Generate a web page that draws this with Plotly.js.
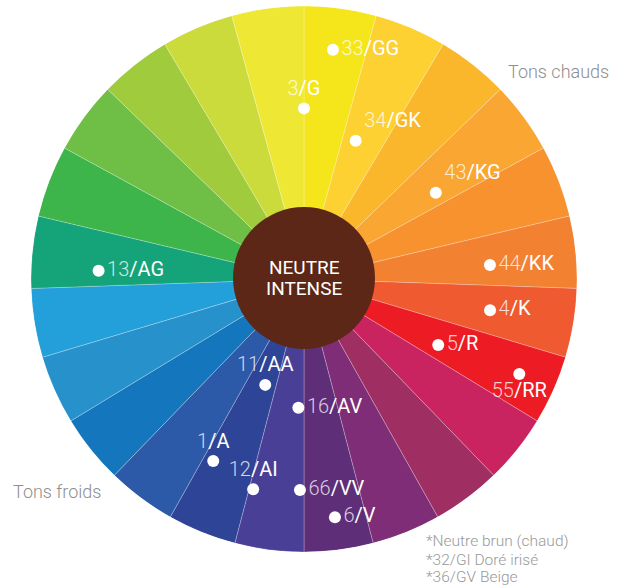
<!DOCTYPE html>
<html>
<head>
<meta charset="utf-8">
<script src="https://cdn.plot.ly/plotly-3.0.1.min.js"></script>
<style>html,body{margin:0;padding:0;background:#fff;}#chart{width:620px;height:588px;}</style>
</head>
<body>
<div id="chart"></div>
<script>
// ---- Data ----
// 24 wheel segments, clockwise from 12 o'clock
const segColors = [
  '#F4E61B','#FCD131','#FBB72B','#F9A633','#F7922F','#F28132',
  '#EF5A30','#ED1C24','#CA2460','#9F2F62','#7F2D77','#5E2E79',
  '#4A3F97','#2E4496','#2C5AA8','#1476BC','#2791CC','#23A0DA',
  '#15A37A','#3DB54A','#6FBE45','#A0CB3D','#CBDB3B','#EEE834'
];
const segWidths = [
  15.33,15.33,15.33,15.33,15.33,15.33,
  14.67,14.67,14.67,14.67,14.67,14.67,
  14.67,14.67,14.67,14.67,14.67,14.67,
  15.33,15.33,15.33,15.33,15.33,15.33
];
// labelled colour codes (dot position: angle clockwise from top, radius fraction)
const dotNums    = ['33','3','34','43','44','4','5','55','13','11','16','1','12','66','6'];
const dotLetters = ['GG','G','GK','KG','KK','K','R','RR','AG','AA','AV','A','AI','VV','V'];
const dotTheta   = [7.2, 0, 20.5, 56.8, 85.7, 99.5, 116.2, 113.8, 272.3, 200.1, 182.5, 206.5, 193.6, 181.1, 172.6];
const dotR       = [0.846, 0.625, 0.541, 0.577, 0.683, 0.691, 0.548, 0.862, 0.753, 0.413, 0.472, 0.745, 0.792, 0.773, 0.880];
const dotTextPos = ['middle right','top center','top right','top right','middle right','middle right','middle right',
                    'bottom center','middle right','top center','middle right','top center','top center','middle right','middle right'];
const centerLines = ['NEUTRE','INTENSE'];
const warmLabel = 'Tons chauds';
const coldLabel = 'Tons froids';
const footnotes = ['*Neutre brun (chaud)','*32/GI Doré irisé','*36/GV Beige'];

// ---- Build ----
const segTheta = [];
let acc = 0;
for (let i = 0; i < segWidths.length; i++) { segTheta.push(acc + segWidths[i] / 2); acc += segWidths[i]; }

const W = 620, H = 588;
const M = {l: 31, r: 43, t: 6, b: 36};
const PW = W - M.l - M.r, PH = H - M.t - M.b;
const px = x => (x - M.l) / PW;
const py = y => (H - M.b - y) / PH;

const wheel = {
  type: 'barpolar',
  theta: segTheta,
  width: segWidths,
  r: segWidths.map(() => 1),
  marker: {color: segColors, line: {color: 'rgba(255,255,255,0.35)', width: 0.7}},
  hoverinfo: 'skip',
  showlegend: false
};

const dots = {
  type: 'scatterpolar',
  mode: 'markers+text',
  theta: dotTheta,
  r: dotR,
  text: dotNums.map((n, i) => '<span style="fill:rgba(255,255,255,0.78);font-weight:300">' + n + '</span>/' + dotLetters[i]),
  textposition: dotTextPos,
  textfont: {family: 'Roboto, "Liberation Sans", sans-serif', size: 20, color: '#ffffff', weight: 400},
  marker: {color: '#ffffff', size: 12, line: {width: 0}},
  cliponaxis: false,
  hoverinfo: 'skip',
  showlegend: false
};

const grey = '#8e8e8e';
const annotations = [
  {text: centerLines[0], x: px(304), y: py(267)},
  {text: centerLines[1], x: px(304), y: py(289)}
].map(a => Object.assign(a, {xref: 'paper', yref: 'paper', xanchor: 'center', yanchor: 'middle', showarrow: false,
  borderpad: 0, font: {family: 'Roboto, "Liberation Sans", sans-serif', size: 19, color: '#ffffff'}}));

annotations.push({text: warmLabel, x: px(506), y: py(71), xref: 'paper', yref: 'paper', xanchor: 'left', yanchor: 'middle',
  showarrow: false, font: {family: 'Roboto, sans-serif', size: 18, color: grey, weight: 300}});
annotations.push({text: coldLabel, x: px(11), y: py(491), xref: 'paper', yref: 'paper', xanchor: 'left', yanchor: 'middle',
  showarrow: false, font: {family: 'Roboto, sans-serif', size: 18, color: grey, weight: 300}});
const footY = [541, 559.5, 577];
footnotes.forEach((t, i) => annotations.push({text: t, x: px(425), y: py(footY[i]), xref: 'paper', yref: 'paper',
  xanchor: 'left', yanchor: 'middle', showarrow: false, borderpad: 0,
  font: {family: 'Roboto, sans-serif', size: 15.5, color: '#999999', weight: 300}}));

const cx = 304, cy = 278, cr = 71;
const layout = {
  width: W, height: H,
  margin: M,
  paper_bgcolor: '#ffffff',
  showlegend: false,
  polar: {
    domain: {x: [0, 1], y: [0, 1]},
    bgcolor: 'rgba(0,0,0,0)',
    bargap: 0,
    radialaxis: {range: [0, 1], visible: false},
    angularaxis: {rotation: 90, direction: 'clockwise', visible: false}
  },
  shapes: [{type: 'circle', xref: 'paper', yref: 'paper', layer: 'above',
    x0: px(cx - cr), x1: px(cx + cr), y0: py(cy + cr), y1: py(cy - cr),
    fillcolor: '#5C2716', line: {width: 0}}],
  annotations: annotations
};

Plotly.newPlot('chart', [wheel, dots], layout, {displayModeBar: false, staticPlot: true});
</script>
</body>
</html>
